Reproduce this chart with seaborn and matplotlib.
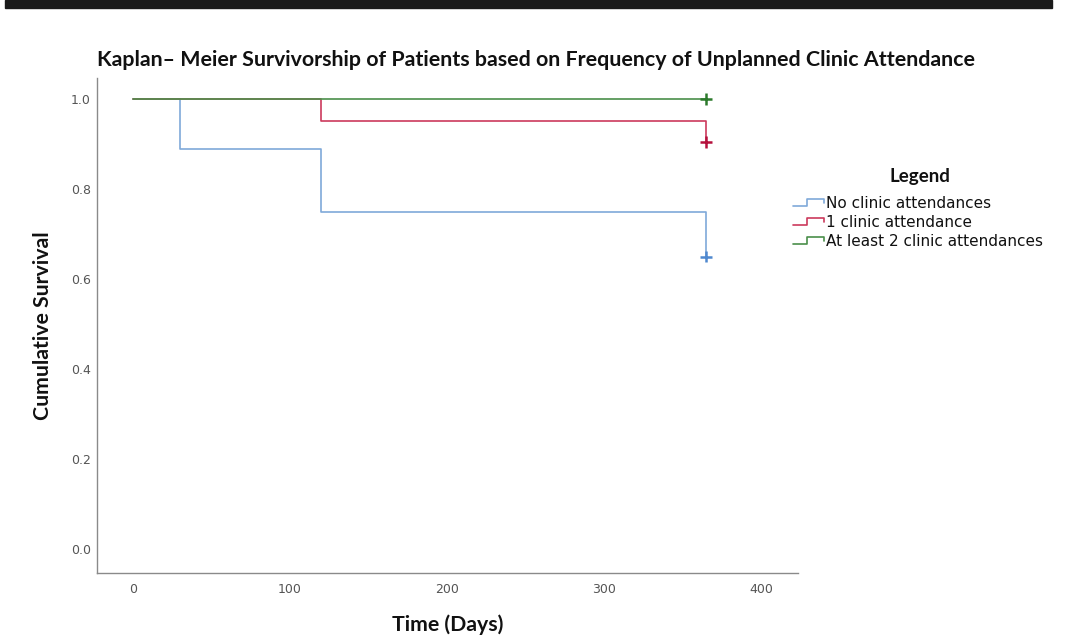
import numpy as np
import pandas as pd
import matplotlib
matplotlib.use("Agg")
import matplotlib.pyplot as plt
from matplotlib.lines import Line2D
from matplotlib.legend_handler import HandlerLine2D
from matplotlib.patches import Rectangle
import seaborn as sns

# ---- data ----
groups = ["No clinic attendances", "1 clinic attendance", "At least 2 clinic attendances"]
time_none = [0, 30, 120, 365]
surv_none = [1.0, 0.889, 0.75, 0.65]
time_one = [0, 120, 365]
surv_one = [1.0, 0.952, 0.905]
time_two = [0, 365]
surv_two = [1.0, 1.0]
censor_time = [365, 365, 365]
censor_surv = [0.65, 0.905, 1.0]
x_ticks = [0, 100, 200, 300, 400]
y_ticks = [0.0, 0.2, 0.4, 0.6, 0.8, 1.0]

line_colors = ["#7fa9d9", "#cc3a5c", "#4a8f4a"]
mark_colors = ["#4f88cf", "#b5103c", "#2c7a2c"]

df = pd.concat([
    pd.DataFrame({"Time": time_none, "Survival": surv_none, "Group": groups[0]}),
    pd.DataFrame({"Time": time_one, "Survival": surv_one, "Group": groups[1]}),
    pd.DataFrame({"Time": time_two, "Survival": surv_two, "Group": groups[2]}),
], ignore_index=True)
cens = pd.DataFrame({"Time": censor_time, "Survival": censor_surv, "Group": groups})

sns.set_style("white")
plt.rcParams['font.family'] = ['DejaVu Sans']

fig = plt.figure(figsize=(10.72, 6.37), dpi=100)
ax = fig.add_axes([97/1072, 1 - 573/637, (798 - 97)/1072, (573 - 78)/637])

# black bar on top
fig.patches.append(Rectangle((5/1072, 1 - 8/637), (1052 - 5)/1072, 8/637,
                             transform=fig.transFigure, color="#1a1a1a", zorder=10))

sns.lineplot(data=df, x="Time", y="Survival", hue="Group", hue_order=groups,
             palette=line_colors, drawstyle="steps-post", estimator=None, sort=False,
             linewidth=1.2, ax=ax, legend=False)
sns.scatterplot(data=cens, x="Time", y="Survival", hue="Group", hue_order=groups,
                palette=mark_colors, marker="+", s=70, linewidth=1.8, ax=ax,
                legend=False, zorder=5)

ax.set_xlim(-22.9, 423.6)
ax.set_ylim(-0.0533, 1.0467)
ax.set_xticks(x_ticks)
ax.set_xticklabels([str(t) for t in x_ticks])
ax.set_yticks(y_ticks)
ax.set_yticklabels([f"{t:.1f}" for t in y_ticks])
ax.tick_params(length=0, labelsize=9, labelcolor="#555555")
ax.tick_params(axis="y", pad=4.5)
ax.tick_params(axis="x", pad=7.5)

for s in ["top", "right"]:
    ax.spines[s].set_visible(False)
for s in ["left", "bottom"]:
    ax.spines[s].set_color("#8a8a8a")
    ax.spines[s].set_linewidth(1.0)

lab_font = dict(family="Lato", weight="bold", size=15.3, color="#111111")
ax.set_xlabel("Time (Days)", labelpad=13, **lab_font)
ax.set_ylabel("Cumulative Survival", labelpad=13, **lab_font)
fig.text(97/1072, 1 - 60/637, "Kaplan\u2013 Meier Survivorship of Patients based on Frequency of Unplanned Clinic Attendance",
         ha="left", va="center", family="Lato", weight="bold", size=15.4, color="#111111")


class StepHandler(HandlerLine2D):
    def create_artists(self, legend, orig_handle, xdescent, ydescent, width, height, fontsize, trans):
        x0 = -xdescent
        y0 = -ydescent
        lo = y0 + height * 0.2
        hi = y0 + height * 0.85
        xs = [x0, x0 + width * 0.45, x0 + width * 0.45, x0 + width, x0 + width]
        ys = [lo, lo, hi, hi, y0 + height * 0.45]
        ln = Line2D(xs, ys, color=orig_handle.get_color(), linewidth=1.2)
        ln.set_transform(trans)
        return [ln]


handles = [Line2D([0], [0], color=c) for c in line_colors]
leg = ax.legend(handles, groups, loc="upper left",
                bbox_to_anchor=(787/1072, 1 - 190/637), bbox_transform=fig.transFigure,
                frameon=False, handler_map={Line2D: StepHandler()}, handlelength=2.0,
                handletextpad=0.15, labelspacing=0.26, borderaxespad=0,
                prop=dict(family="DejaVu Sans", size=11))
for t in leg.get_texts():
    t.set_color("#111111")
fig.text(920/1072, 1 - 177/637, "Legend", ha="center", va="center",
         family="Lato", weight="bold", size=13.5, color="#111111")

fig.savefig("out.png", dpi=100)
